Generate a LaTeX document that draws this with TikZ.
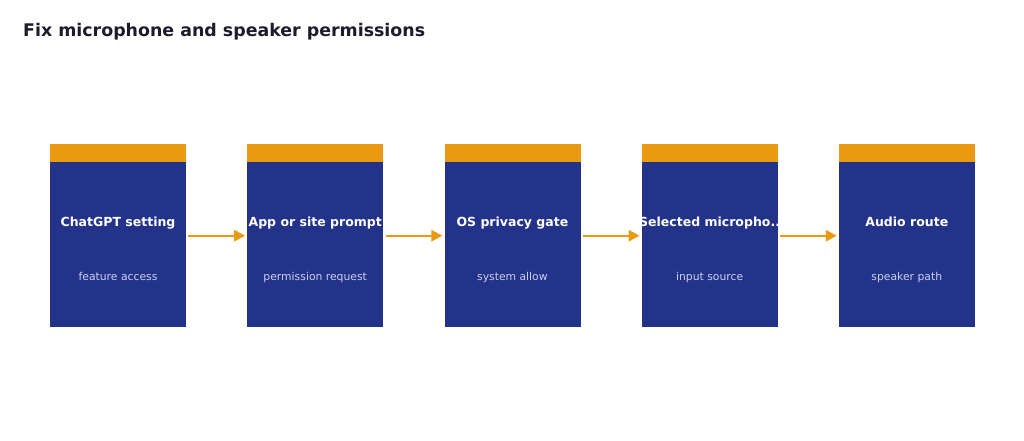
\documentclass[tikz,border=0pt]{standalone}
\usepackage{fontspec}
\setmainfont{DejaVu Sans}
\usetikzlibrary{arrows.meta}
\definecolor{boxblue}{HTML}{23338A}
\definecolor{barorange}{HTML}{E99A10}
\definecolor{subtxt}{HTML}{C9D0F2}
\definecolor{titletxt}{HTML}{1C1C2C}
\tikzset{
  stepbox/.style={fill=boxblue, draw=none, minimum width=136pt, minimum height=183pt, inner sep=0pt, anchor=north west},
  topbar/.style={fill=barorange, draw=none, minimum width=136pt, minimum height=18pt, inner sep=0pt, anchor=north west},
  headtxt/.style={text=white, font=\bfseries\fontsize{12.5}{15}\selectfont, inner sep=0pt, anchor=base},
  subtext/.style={text=subtxt, font=\fontsize{10.8}{13}\selectfont, inner sep=0pt, anchor=base},
  flow/.style={draw=barorange, line width=2.4pt, -{Triangle[length=11pt,width=11pt]}}
}
\begin{document}
\begin{tikzpicture}[x=1pt,y=-1pt]
\useasboundingbox[fill=white] (0,0) rectangle (1024,441);
\node[anchor=base west, text=titletxt, font=\bfseries\fontsize{17.4}{20}\selectfont, inner sep=0pt] (title) at (23,37) {Fix microphone and speaker permissions};
\foreach \i/\x/\h/\s in {1/50/ChatGPT setting/feature access, 2/247.2/App or site prompt/permission request, 3/444.4/OS privacy gate/system allow, 4/641.6/Selected micropho../input source, 5/838.8/Audio route/speaker path}{
  \node[stepbox] (b\i) at (\x,144) {};
  \node[topbar] (t\i) at (\x,144) {};
  \begin{scope}
    \clip (\x,144) rectangle ++(136,183);
    \node[headtxt] (h\i) at (\x+68,226) {\h};
  \end{scope}
  \node[subtext] (s\i) at (\x+68,280.5) {\s};
}
\foreach \a/\b in {1/2,2/3,3/4,4/5}{
  \draw[flow] ([xshift=2pt]b\a.east) -- ([xshift=-2pt]b\b.west);
}
\end{tikzpicture}
\end{document}
